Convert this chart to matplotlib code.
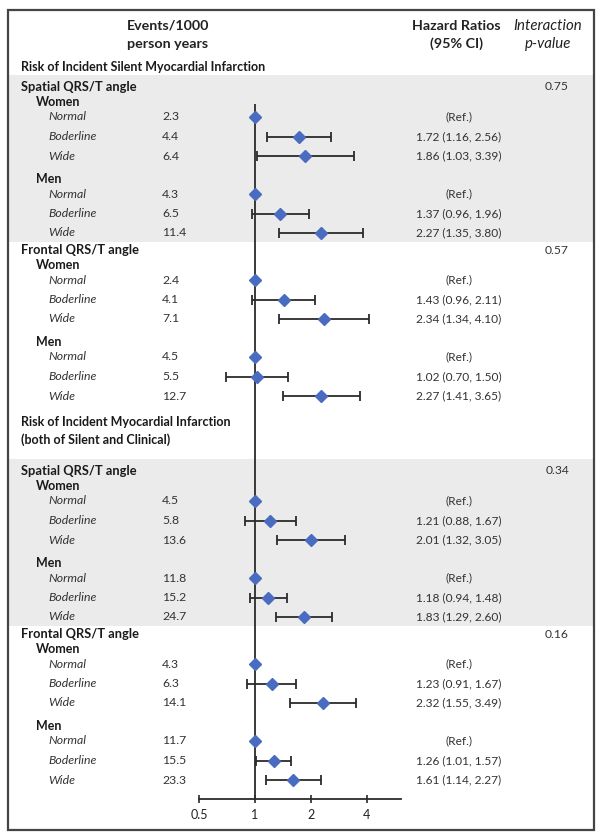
import matplotlib
matplotlib.use("Agg")
import matplotlib.pyplot as plt
import numpy as np
from matplotlib.patches import Rectangle
from matplotlib.transforms import blended_transform_factory

plt.rcParams['font.family'] = ['Lato', 'DejaVu Sans']

# ── Datos ──────────────────────────────────────────────────────────────────
SECCIONES = ["Risk of Incident Silent Myocardial Infarction",
             "Risk of Incident Myocardial Infarction\n(both of Silent and Clinical)"]
GRUPOS = ["Spatial QRS/T angle", "Frontal QRS/T angle"]
SEXOS = ["Women", "Men"]
CATEGORIAS = ["Normal", "Boderline", "Wide"]
P_VALORES = ["0.75", "0.57", "0.34", "0.16"]

# orden: sección -> grupo -> sexo, cada fila = Normal, Boderline, Wide
EVENTOS = [[2.3, 4.4, 6.4], [4.3, 6.5, 11.4],
           [2.4, 4.1, 7.1], [4.5, 5.5, 12.7],
           [4.5, 5.8, 13.6], [11.8, 15.2, 24.7],
           [4.3, 6.3, 14.1], [11.7, 15.5, 23.3]]
HR = [[1.00, 1.72, 1.86], [1.00, 1.37, 2.27],
      [1.00, 1.43, 2.34], [1.00, 1.02, 2.27],
      [1.00, 1.21, 2.01], [1.00, 1.18, 1.83],
      [1.00, 1.23, 2.32], [1.00, 1.26, 1.61]]
HR_LO = [[None, 1.16, 1.03], [None, 0.96, 1.35],
         [None, 0.96, 1.34], [None, 0.70, 1.41],
         [None, 0.88, 1.32], [None, 0.94, 1.29],
         [None, 0.91, 1.55], [None, 1.01, 1.14]]
HR_HI = [[None, 2.56, 3.39], [None, 1.96, 3.80],
         [None, 2.11, 4.10], [None, 1.50, 3.65],
         [None, 1.67, 3.05], [None, 1.48, 2.60],
         [None, 1.67, 3.49], [None, 1.57, 2.27]]
TICKS = [0.5, 1, 2, 4]

AZUL = "#4A6CC0"
LINEA = "#2B2B2B"
TEXTO = "#333333"
GRIS = "#EBEBEB"
W, H = 604, 839

# ── Disposición vertical (px desde arriba) ────────────────────────────────
filas = []          # (tipo, texto, y, idx)
y = 67
k = 0
for s, sec in enumerate(SECCIONES):
    if s > 0:
        y += 35
    filas.append(("seccion", sec, y, None))
    y += 20 if "\n" not in sec else 40
    for g, grupo in enumerate(GRUPOS):
        if g > 0:
            y += 17
        filas.append(("grupo", grupo, y, 2 * s + g))
        for m, sexo in enumerate(SEXOS):
            y += 15 if m == 0 else 23
            filas.append(("sexo", sexo, y, None))
            for c, cat in enumerate(CATEGORIAS):
                y += 15 if c == 0 else 19.5
                filas.append(("cat", cat, y, (k, c)))
            k += 1
y_eje = y + 19

# ── Figura ─────────────────────────────────────────────────────────────────
fig = plt.figure(figsize=(W / 100, H / 100), dpi=100)
fig.patch.set_facecolor("white")
ax = fig.add_axes([199 / W, (H - y_eje) / H, 202 / W, y_eje / H])
ax.set_facecolor("none")
ax.set_xscale("log")
ax.set_xlim(0.5, 6.1)
ax.set_ylim(y_eje, 0)
for sp in ["top", "left", "right"]:
    ax.spines[sp].set_visible(False)
ax.spines["bottom"].set_color(LINEA)
ax.spines["bottom"].set_linewidth(1.3)
ax.set_yticks([])
ax.set_xticks(TICKS)
ax.set_xticklabels([f"{t:g}" for t in TICKS], fontsize=9, color="#222")
ax.minorticks_off()
ax.tick_params(axis="x", direction="inout", length=6, width=1.2, color=LINEA, pad=4)

tr = blended_transform_factory(fig.transFigure, ax.transData)

def px(x):
    return x / W

# bandas grises
grupos_y = [f for f in filas if f[0] == "grupo"]
cats = [f for f in filas if f[0] == "cat"]
for s in range(len(SECCIONES)):
    y0 = grupos_y[2 * s][2] - 12
    y1 = [f[2] for f in cats if f[3][0] == 4 * s + 1][-1] + 9
    fig.add_artist(Rectangle((px(8), y0), px(594) - px(8), y1 - y0, transform=tr,
                             facecolor=GRIS, edgecolor="none", zorder=-1))

# línea de referencia
primera = cats[0][2]
ax.vlines(1, primera - 13, y_eje, color=LINEA, linewidth=1.3, zorder=2)

# encabezados
for xx, textos, estilo in [(168, ["Events/1000", "person years"], "bold"),
                           (456, ["Hazard Ratios", "(95% CI)"], "bold"),
                           (548, ["Interaction", "p-value"], "italic")]:
    for yy, t in zip([26, 44], textos):
        ax.text(px(xx), yy, t, transform=tr, ha="center", va="center",
                fontsize=10.3 if estilo == "bold" else 10.8,
                fontweight="bold" if estilo == "bold" else "normal",
                style="italic" if estilo == "italic" else "normal",
                color="#222", clip_on=False)

for tipo, texto, yy, idx in filas:
    if tipo == "seccion":
        ax.text(px(21), yy, texto, transform=tr, ha="left", va="center",
                fontsize=9, fontweight="bold", linespacing=1.45, color="#1a1a1a",
                clip_on=False)
    elif tipo == "grupo":
        ax.text(px(21), yy, texto, transform=tr, ha="left", va="center",
                fontsize=9.3, fontweight="bold", color="#1a1a1a", clip_on=False)
        ax.text(px(557), yy, P_VALORES[idx], transform=tr, ha="center", va="center",
                fontsize=8.7, color=TEXTO, clip_on=False)
    elif tipo == "sexo":
        ax.text(px(36), yy, texto, transform=tr, ha="left", va="center",
                fontsize=9, fontweight="bold", color="#1a1a1a", clip_on=False)
    else:
        r, c = idx
        ax.text(px(48), yy, texto, transform=tr, ha="left", va="center",
                fontsize=8.8, style="italic", color=TEXTO, clip_on=False)
        ax.text(px(162), yy, f"{EVENTOS[r][c]:.1f}", transform=tr, ha="left",
                va="center", fontsize=8.8, color=TEXTO, clip_on=False)
        if HR_LO[r][c] is None:
            etiqueta = "(Ref.)"
        else:
            etiqueta = f"{HR[r][c]:.2f} ({HR_LO[r][c]:.2f}, {HR_HI[r][c]:.2f})"
            ax.errorbar(HR[r][c], yy,
                        xerr=[[HR[r][c] - HR_LO[r][c]], [HR_HI[r][c] - HR[r][c]]],
                        fmt="none", ecolor=LINEA, elinewidth=1.3, capsize=3.5,
                        capthick=1.3, zorder=3)
        ax.plot(HR[r][c], yy, marker="D", markersize=6, color=AZUL,
                linestyle="none", zorder=4)
        ax.text(px(459), yy, etiqueta, transform=tr, ha="center", va="center",
                fontsize=8.6, color=TEXTO, clip_on=False)

# marco exterior
fig.add_artist(Rectangle((px(8), (H - 830) / H), px(594) - px(8), (830 - 10) / H,
                         transform=fig.transFigure, facecolor="none",
                         edgecolor="#444", linewidth=1.6, zorder=10))

fig.savefig("out.png", dpi=100)
